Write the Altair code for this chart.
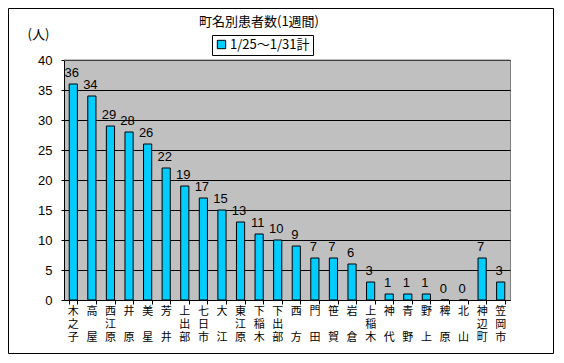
import altair as alt
import pandas as pd

towns = ["木之子", "高屋", "西江原", "井原", "美星", "芳井", "上出部", "七日市", "大江", "東江原",
         "下稲木", "下出部", "西方", "門田", "笹賀", "岩倉", "上稲木", "神代", "青野", "野上",
         "稗原", "北山", "神辺町", "笠岡市"]
counts = [36, 34, 29, 28, 26, 22, 19, 17, 15, 13, 11, 10, 9, 7, 7, 6, 3, 1, 1, 1, 0, 0, 7, 3]
series_name = "1/25～1/31計"
chart_title = "町名別患者数(1週間)"
y_ticks = [0, 5, 10, 15, 20, 25, 30, 35, 40]

# vertical labels: first character on row 1, middle on row 2 (three-character names only),
# last character on row 3
row1 = [t[0] for t in towns]
row2 = [t[1] if len(t) == 3 else "" for t in towns]
row3 = [t[-1] for t in towns]

df = pd.DataFrame({"town": towns, "count": counts,
                   "series": [series_name] * len(towns),
                   "r1": row1, "r2": row2, "r3": row3})

JP = "Noto Sans CJK JP"
NUM = "Liberation Sans"

x_enc = alt.X("town:N", sort=None, title=None,
              scale=alt.Scale(paddingInner=0.56, paddingOuter=0.28),
              axis=alt.Axis(labels=False, tickBand="extent", tickSize=4, tickColor="black",
                            domainColor="black"))

y_enc = alt.Y("count:Q", scale=alt.Scale(domain=[0, 40], nice=False),
              axis=alt.Axis(values=y_ticks, title="(人)", titleAngle=0, titleX=-26, titleY=-26,
                            titleAlign="center", titleBaseline="middle", titleFont=JP,
                            titleFontSize=13, titleFontWeight="normal", titleColor="black",
                            labelFont=NUM, labelFontSize=13, labelColor="black", labelPadding=9,
                            tickSize=3, tickColor="black", domainColor="black",
                            gridColor="black", gridOpacity=1, grid=True))

base = alt.Chart(df).encode(x=x_enc, y=y_enc)

bars = base.mark_bar(stroke="black", strokeWidth=1).encode(
    fill=alt.Fill("series:N", scale=alt.Scale(range=["#00CCFF"]),
                  legend=alt.Legend(title=None, orient="none", legendX=148, legendY=-25,
                                    fillColor="white", strokeColor="black", padding=3,
                                    symbolType="square", symbolSize=70, symbolStrokeColor="black",
                                    symbolStrokeWidth=1, labelFont=JP, labelFontSize=13,
                                    labelColor="black", labelOffset=2)),
)

values_text = base.mark_text(baseline="alphabetic", dy=-7, dx=-1.5, font=NUM, fontSize=13,
                             color="black").encode(text="count:Q")


def label_row(field, ypos):
    return alt.Chart(df).mark_text(baseline="middle", align="center", font=JP, fontSize=11,
                                   color="black").encode(
        x=alt.X("town:N", sort=None),
        y=alt.value(ypos),
        text=f"{field}:N",
    )


x_labels = [label_row("r1", 252), label_row("r2", 265), label_row("r3", 278)]

one = pd.DataFrame({"title": [chart_title]})

top_edge = alt.Chart(one).mark_rule(stroke="#808080", strokeWidth=1).encode(
    x=alt.value(0), x2=alt.value(446), y=alt.value(0)
)

title = alt.Chart(one).mark_text(font=JP, fontSize=13, color="black", baseline="middle",
                                 align="center").encode(
    x=alt.value(195), y=alt.value(-38), text="title:N"
)

frame = alt.Chart(one).mark_rect(fill=None, stroke="black", strokeWidth=1).encode(
    x=alt.value(-55.5), x2=alt.value(489.5), y=alt.value(-51.5), y2=alt.value(293.5)
)

chart = alt.layer(bars, values_text, *x_labels, top_edge, title, frame).properties(
    width=446, height=240,
    padding=0,
).configure_view(fill="#C0C0C0", stroke="#808080", strokeWidth=1)

chart.save("out.html", embed_options={"renderer": "svg", "actions": False})
